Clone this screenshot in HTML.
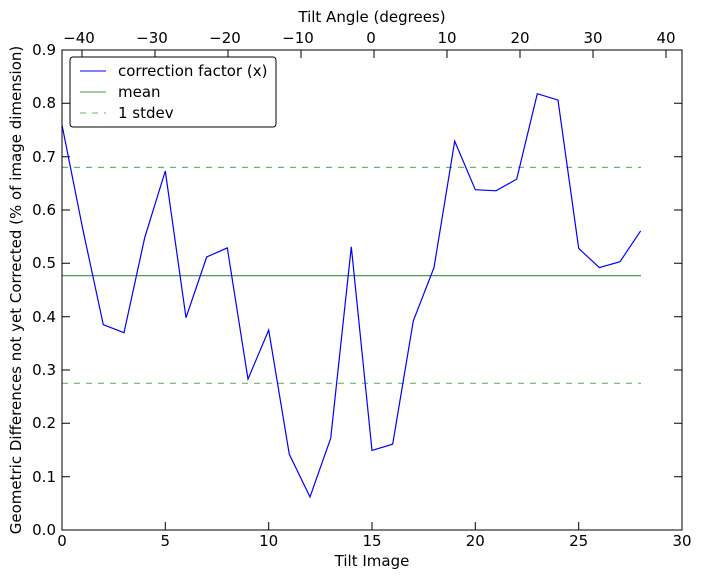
<!DOCTYPE html>
<html><head><meta charset="utf-8"><style>body{margin:0;background:#fff}svg{display:block}</style></head><body>
<svg width="701" height="579" xmlns="http://www.w3.org/2000/svg" font-family="'DejaVu Sans','Liberation Sans',sans-serif" font-size="15">
<rect width="701" height="579" fill="#fff"/>
<g stroke="#000" stroke-width="1" fill="none">
<path d="M62,530v-8M165.3,530v-8M268.7,530v-8M372,530v-8M475.3,530v-8M578.7,530v-8M682,530v-8"/>
<path d="M82,50v8M155,50v8M228,50v8M301,50v8M374,50v8M447,50v8M520,50v8M593,50v8M666,50v8"/>
<path d="M62,530h8M62,476.7h8M62,423.3h8M62,370h8M62,316.7h8M62,263.3h8M62,210h8M62,156.7h8M62,103.3h8M62,50h8"/>
<path d="M682,530h-8M682,476.7h-8M682,423.3h-8M682,370h-8M682,316.7h-8M682,263.3h-8M682,210h-8M682,156.7h-8M682,103.3h-8M682,50h-8"/>
</g>
<line x1="62" y1="275.6" x2="641" y2="275.6" stroke="#4a9a4a" stroke-width="1.2"/>
<line x1="62" y1="167.4" x2="641" y2="167.4" stroke="#6ab86a" stroke-width="1.2" stroke-dasharray="6,6"/>
<line x1="62" y1="383.3" x2="641" y2="383.3" stroke="#6ab86a" stroke-width="1.2" stroke-dasharray="6,6"/>
<polyline fill="none" stroke="#0000ff" stroke-width="1.2" points="62,125 82.7,228.7 103.3,324.7 124,332.7 144.7,237.7 165.3,171 186,317.7 206.7,257 227.3,247.9 248,379.1 268.7,330 289.3,454.3 310,497 330.7,438.3 351.3,246.8 372,450.5 392.7,444.1 413.3,320.9 434,267.6 454.7,141.2 475.3,189.7 496,190.8 516.7,179.1 537.3,93.7 558,100.1 578.7,248.4 599.3,267.6 620,261.7 640.7,230.8"/>
<rect x="62" y="50" width="620" height="480" fill="none" stroke="#000" stroke-width="1"/>
<g text-anchor="middle">
<text x="62" y="546">0</text><text x="165.3" y="546">5</text><text x="268.7" y="546">10</text><text x="372" y="546">15</text><text x="475.3" y="546">20</text><text x="578.7" y="546">25</text><text x="682" y="546">30</text>
<text x="79" y="43">−40</text><text x="152" y="43">−30</text><text x="225" y="43">−20</text><text x="298" y="43">−10</text><text x="371" y="43">0</text><text x="447" y="43">10</text><text x="520" y="43">20</text><text x="593" y="43">30</text><text x="666" y="43">40</text>
<text x="372" y="566">Tilt Image</text>
<text x="372" y="22">Tilt Angle (degrees)</text>
</g>
<g text-anchor="end">
<text x="56" y="535">0.0</text><text x="56" y="482">0.1</text><text x="56" y="428">0.2</text><text x="56" y="375">0.3</text><text x="56" y="322">0.4</text><text x="56" y="268">0.5</text><text x="56" y="215">0.6</text><text x="56" y="162">0.7</text><text x="56" y="108">0.8</text><text x="56" y="55">0.9</text>
</g>
<text transform="translate(21,290) rotate(-90)" text-anchor="middle">Geometric Differences not yet Corrected (% of image dimension)</text>
<rect x="70" y="57" width="206" height="70" rx="3" fill="#fff" stroke="#000"/>
<line x1="80" y1="71" x2="106" y2="71" stroke="#0000ff"/>
<text x="118" y="76" font-size="15">correction factor (x)</text>
<line x1="80" y1="92" x2="106" y2="92" stroke="#4a9a4a"/>
<text x="118" y="97" font-size="15">mean</text>
<line x1="80" y1="113" x2="106" y2="113" stroke="#6ab86a" stroke-dasharray="6,6"/>
<text x="118" y="118" font-size="15">1 stdev</text>
</svg>
</body></html>
